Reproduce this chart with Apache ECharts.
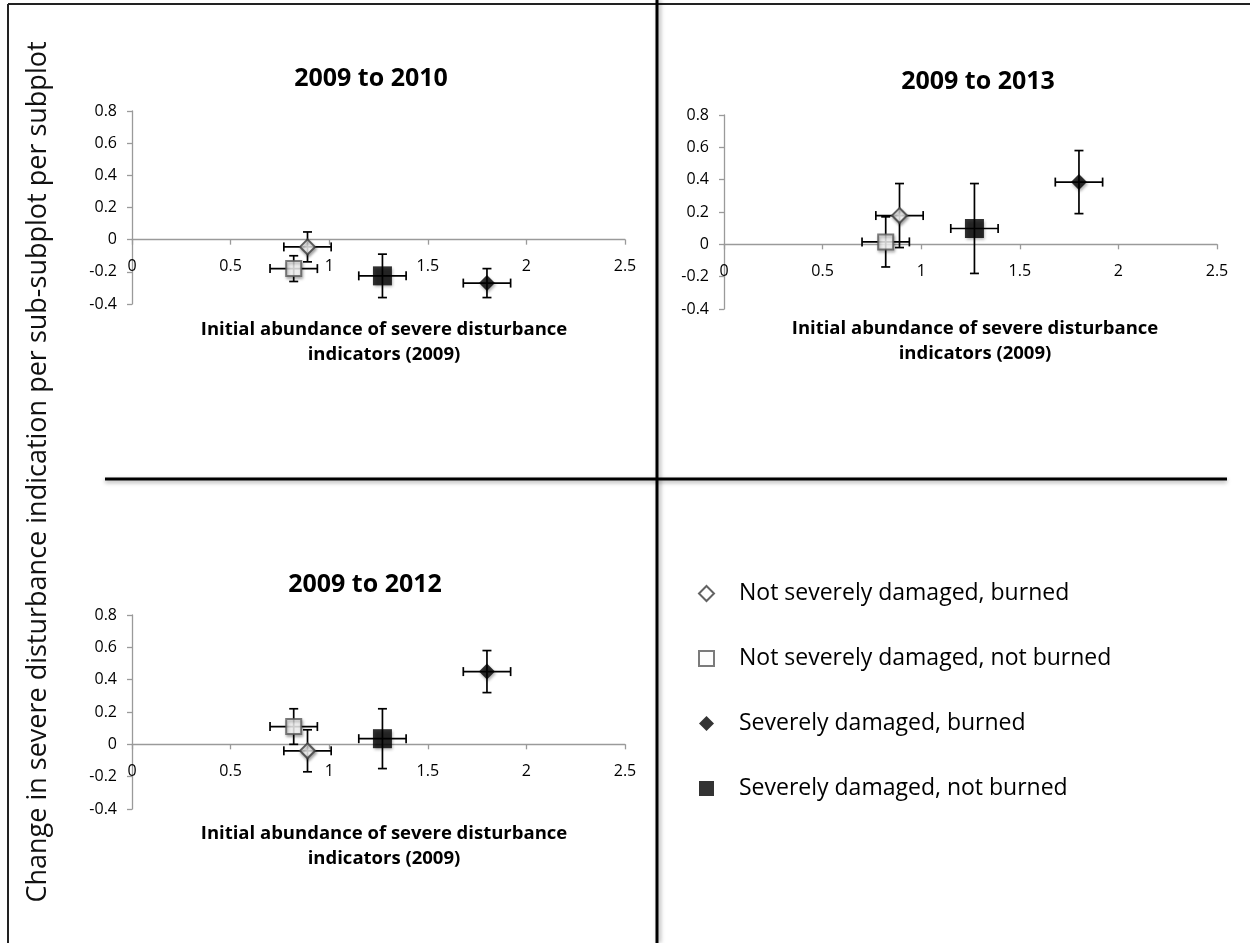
<!DOCTYPE html>
<html>
<head>
<meta charset="utf-8">
<script src="https://cdn.jsdelivr.net/npm/echarts@6/dist/echarts.min.js"></script>
<style>
html,body{margin:0;padding:0;background:#fff;}
#main{width:1250px;height:943px;}
</style>
</head>
<body>
<div id="main"></div>
<script>
// ---- data ----
const groups = ['Not severely damaged, burned', 'Not severely damaged, not burned', 'Severely damaged, burned', 'Severely damaged, not burned'];
const panelTitles = ['2009 to 2010', '2009 to 2013', '2009 to 2012'];
const xTitle = 'Initial abundance of severe disturbance\nindicators (2009)';
const yTitle = 'Change in severe disturbance indication per sub-subplot per subplot';
const xTicks = [0, 0.5, 1, 1.5, 2, 2.5];
const yTicks = [-0.4, -0.2, 0, 0.2, 0.4, 0.6, 0.8];

// initial abundance (x) and its error, same for all panels (order of groups)
const xValues = [0.89, 0.82, 1.80, 1.27];
const xErrors = [0.12, 0.12, 0.12, 0.12];

// change values per panel (order of groups)
const y2010 = [-0.045, -0.18, -0.27, -0.225];
const e2010 = [0.093, 0.08, 0.09, 0.135];
const y2013 = [0.178, 0.015, 0.385, 0.098];
const e2013 = [0.198, 0.155, 0.195, 0.278];
const y2012 = [-0.04, 0.11, 0.45, 0.035];
const e2012 = [0.13, 0.11, 0.13, 0.185];

const panelY = [y2010, y2013, y2012];
const panelE = [e2010, e2013, e2012];

// ---- styles ----
const FONT = 'Open Sans';
const symbols = ['diamond', 'rect', 'diamond', 'rect'];
const symSizes = [15, 15, 16, 19];
const shadow = {shadowBlur: 3, shadowColor: 'rgba(0,0,0,0.4)', shadowOffsetX: 1, shadowOffsetY: 2};
const itemStyles = [
  Object.assign({color: '#ffffff', borderColor: '#3c3c3c', borderWidth: 2}, shadow),
  Object.assign({color: '#fdfdfd', borderColor: '#5a5a5a', borderWidth: 2}, shadow),
  Object.assign({color: '#000000', borderColor: '#000000', borderWidth: 0}, shadow),
  Object.assign({color: '#000000', borderColor: '#000000', borderWidth: 0}, shadow)
];

const grids = [
  {left: 132, top: 111, width: 493, height: 193},
  {left: 724, top: 115, width: 493, height: 194},
  {left: 132, top: 615, width: 493, height: 194}
];

const axisColor = '#9a9a9a';
const yMin = yTicks[0], yMax = yTicks[yTicks.length - 1];
const xAxes = grids.map((g, i) => ({
  type: 'value', gridIndex: i, min: xTicks[0], max: xTicks[xTicks.length - 1], interval: 0.5,
  position: 'bottom',
  // place the x axis on y = 0 (offset upward from the grid bottom)
  offset: -g.height * (0 - yMin) / (yMax - yMin),
  axisLine: {show: true, onZero: false, lineStyle: {color: axisColor, width: 1.3}},
  axisTick: {show: true, length: 5, lineStyle: {color: axisColor, width: 1.3}},
  axisLabel: {color: '#000', fontFamily: FONT, fontSize: 16, margin: 19},
  splitLine: {show: false}
}));
const yAxes = grids.map((g, i) => ({
  type: 'value', gridIndex: i, min: yMin, max: yMax, interval: 0.2,
  axisLine: {show: true, lineStyle: {color: axisColor, width: 1.3}},
  axisTick: {show: true, length: 5, lineStyle: {color: axisColor, width: 1.3}},
  axisLabel: {color: '#000', fontFamily: FONT, fontSize: 16, margin: 15,
    formatter: v => (Math.abs(v) < 1e-9 ? '0' : String(Math.round(v * 10) / 10))},
  splitLine: {show: false}
}));

function errorRender(params, api) {
  const x = api.value(0), y = api.value(1), xe = api.value(2), ye = api.value(3);
  const top = api.coord([x, y + ye]);
  const bot = api.coord([x, y - ye]);
  const lft = api.coord([x - xe, y]);
  const rgt = api.coord([x + xe, y]);
  const cap = 4.5;
  const st = {stroke: '#000', lineWidth: 1.7};
  return {
    type: 'group',
    children: [
      {type: 'line', shape: {x1: top[0], y1: top[1], x2: bot[0], y2: bot[1]}, style: st},
      {type: 'line', shape: {x1: top[0] - cap, y1: top[1], x2: top[0] + cap, y2: top[1]}, style: st},
      {type: 'line', shape: {x1: bot[0] - cap, y1: bot[1], x2: bot[0] + cap, y2: bot[1]}, style: st},
      {type: 'line', shape: {x1: lft[0], y1: lft[1], x2: rgt[0], y2: rgt[1]}, style: st},
      {type: 'line', shape: {x1: lft[0], y1: lft[1] - cap, x2: lft[0], y2: lft[1] + cap}, style: st},
      {type: 'line', shape: {x1: rgt[0], y1: rgt[1] - cap, x2: rgt[0], y2: rgt[1] + cap}, style: st}
    ]
  };
}

const series = [];
for (let p = 0; p < 3; p++) {
  for (let g = 0; g < groups.length; g++) {
    series.push({
      type: 'custom', name: 'err' + p + '_' + g, xAxisIndex: p, yAxisIndex: p, z: 2,
      renderItem: errorRender, encode: {x: 0, y: 1},
      data: [[xValues[g], panelY[p][g], xErrors[g], panelE[p][g]]], silent: true
    });
  }
  for (let g = 0; g < groups.length; g++) {
    series.push({
      type: 'scatter', name: groups[g], xAxisIndex: p, yAxisIndex: p, z: 5,
      symbol: symbols[g], symbolSize: symSizes[g], itemStyle: itemStyles[g],
      data: [[xValues[g], panelY[p][g]]]
    });
  }
}

const titleCenters = [[366, 61], [973, 64], [360, 567]];
const xNameCenters = [[379, 312], [970, 311], [379, 816]];
const titles = [];
panelTitles.forEach((t, i) => titles.push({
  text: t, left: titleCenters[i][0], top: titleCenters[i][1], textAlign: 'center',
  textStyle: {fontFamily: FONT, fontSize: 25, fontWeight: 'bold', color: '#000'}
}));
xNameCenters.forEach(c => titles.push({
  text: xTitle, left: c[0], top: c[1], textAlign: 'center',
  textStyle: {fontFamily: FONT, fontSize: 18.5, fontWeight: 'bold', color: '#000', lineHeight: 25}
}));

const option = {
  animation: false,
  backgroundColor: '#fff',
  title: titles,
  grid: grids,
  xAxis: xAxes,
  yAxis: yAxes,
  legend: {
    data: groups, orient: 'vertical', left: 693, top: 577, itemGap: 42,
    itemWidth: 15, itemHeight: 15,
    textStyle: {fontFamily: FONT, fontSize: 23, color: '#000', padding: [0, 0, 0, 20]}
  },
  graphic: [
    {type: 'line', shape: {x1: 8, y1: 4, x2: 1250, y2: 4}, style: {stroke: '#222', lineWidth: 2}},
    {type: 'line', shape: {x1: 8, y1: 4, x2: 8, y2: 943}, style: {stroke: '#222', lineWidth: 2}},
    {type: 'line', shape: {x1: 657, y1: 0, x2: 657, y2: 943},
      style: {stroke: '#000', lineWidth: 3, shadowBlur: 4, shadowColor: 'rgba(0,0,0,0.35)', shadowOffsetX: 2}},
    {type: 'line', shape: {x1: 105, y1: 479, x2: 1227, y2: 479},
      style: {stroke: '#000', lineWidth: 3, shadowBlur: 4, shadowColor: 'rgba(0,0,0,0.35)', shadowOffsetY: 2}},
    {type: 'text', x: 38, y: 472, rotation: Math.PI / 2,
      style: {text: yTitle, fontFamily: FONT, fontSize: 27, fill: '#111', textAlign: 'center', textVerticalAlign: 'middle'}}
  ],
  series: series
};

const chart = echarts.init(document.getElementById('main'), null, {renderer: 'canvas'});
chart.setOption(option);
</script>
</body>
</html>
